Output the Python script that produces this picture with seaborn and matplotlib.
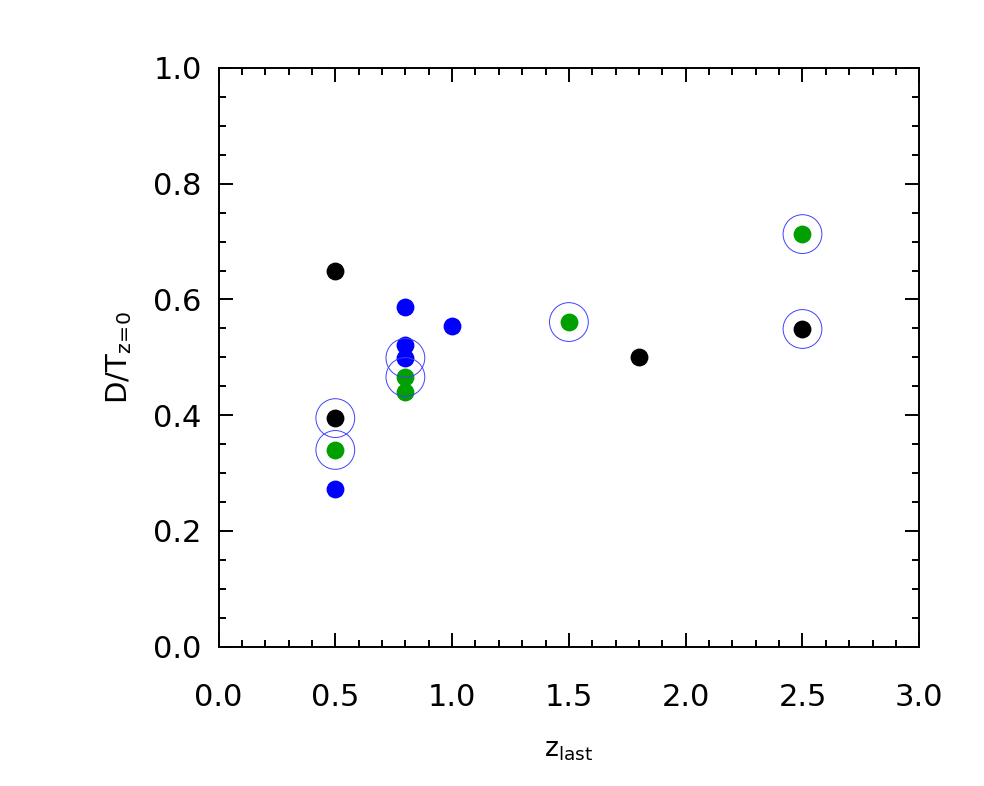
import matplotlib
matplotlib.use("Agg")
import matplotlib.pyplot as plt
import seaborn as sns
import pandas as pd
from matplotlib.ticker import MultipleLocator

# Data
black_x = [0.5, 0.5, 1.8, 2.5]
black_y = [0.650, 0.395, 0.500, 0.549]
blue_x = [0.5, 0.8, 0.8, 0.8, 1.0]
blue_y = [0.272, 0.587, 0.521, 0.499, 0.554]
green_x = [0.5, 0.8, 0.8, 1.5, 2.5]
green_y = [0.340, 0.466, 0.440, 0.561, 0.713]
ring_x = [0.5, 0.5, 0.8, 0.8, 1.5, 2.5, 2.5]
ring_y = [0.395, 0.340, 0.499, 0.466, 0.561, 0.713, 0.549]

sns.set_theme(style="ticks")
plt.rcParams['font.family'] = ['DejaVu Sans']
plt.rcParams['mathtext.fontset'] = 'custom'
plt.rcParams['mathtext.rm'] = 'DejaVu Sans'
plt.rcParams['mathtext.it'] = 'DejaVu Sans'
plt.rcParams['text.color'] = 'black'
plt.rcParams['axes.labelcolor'] = 'black'
plt.rcParams['xtick.color'] = 'black'
plt.rcParams['ytick.color'] = 'black'

fig = plt.figure(figsize=(9.84, 7.86), dpi=100)
ax = fig.add_axes([218.5/984, 1-646.7/786, (919.3-218.5)/984, (646.7-68)/786])

df_black = pd.DataFrame({"x": black_x, "y": black_y})
df_blue = pd.DataFrame({"x": blue_x, "y": blue_y})
df_green = pd.DataFrame({"x": green_x, "y": green_y})
df_ring = pd.DataFrame({"x": ring_x, "y": ring_y})

s_dot = 165
sns.scatterplot(data=df_black, x="x", y="y", ax=ax, color="black", s=s_dot, linewidth=0, zorder=3)
sns.scatterplot(data=df_blue, x="x", y="y", ax=ax, color="#0000ff", s=s_dot, linewidth=0, zorder=3)
sns.scatterplot(data=df_green, x="x", y="y", ax=ax, color="#00a000", s=s_dot, linewidth=0, zorder=3)
sns.scatterplot(data=df_ring, x="x", y="y", ax=ax, facecolor="none", edgecolor="#4040ff",
                s=780, linewidth=0.7, zorder=4)

ax.set_xlim(0, 3.0)
ax.set_ylim(0, 1.0)
ax.xaxis.set_major_locator(MultipleLocator(0.5))
ax.xaxis.set_minor_locator(MultipleLocator(0.1))
ax.yaxis.set_major_locator(MultipleLocator(0.2))
ax.yaxis.set_minor_locator(MultipleLocator(0.05))
ax.xaxis.set_major_formatter(matplotlib.ticker.FormatStrFormatter('%.1f'))
ax.yaxis.set_major_formatter(matplotlib.ticker.FormatStrFormatter('%.1f'))

ax.tick_params(which='both', direction='in', top=True, right=True, color='black', width=1.4)
ax.tick_params(which='major', length=10, labelsize=22)
ax.tick_params(axis='x', which='major', pad=26)
ax.tick_params(axis='y', which='major', pad=12)
ax.tick_params(which='minor', length=5)
for sp in ax.spines.values():
    sp.set_visible(True)
    sp.set_linewidth(1.4)
    sp.set_color('black')

ax.set_xlabel(r'z$_{\rm last}$', fontsize=19, labelpad=18)
ax.set_ylabel(r'D/T$_{\rm z\!=\!0}$', fontsize=21, labelpad=14)

fig.savefig("out.png", dpi=100)
